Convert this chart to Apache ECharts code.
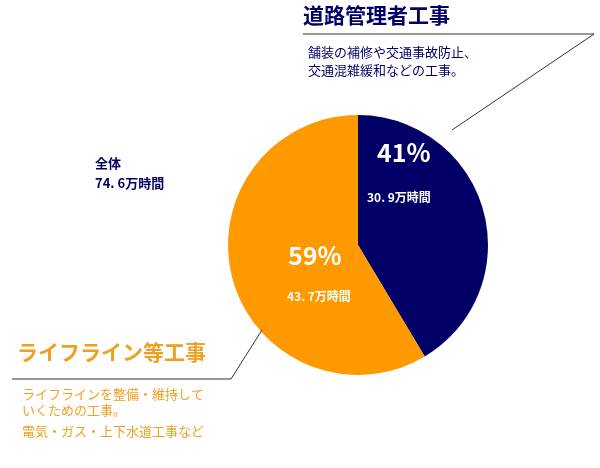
<!DOCTYPE html><html><head><meta charset="utf-8"><script src="https://cdn.jsdelivr.net/npm/echarts@6/dist/echarts.min.js"></script>
<style>html,body{margin:0;background:#fff}#c{width:600px;height:468px}</style></head><body><div id="c"></div><script>
const categories=['道路管理者工事','ライフライン等工事'];
const values=[30.9,43.7];
const colors=['#000066','#FF9900'];
const totalLabel='74. 6万時間';
const valueLabels=['30. 9万時間','43. 7万時間'];
const F='"Noto Sans CJK JP"';
const chart=echarts.init(document.getElementById('c'));
const t=(x,y,s,size,color,weight)=>({type:'text',z:100,left:x,top:y,style:{text:s,font:`${weight||'normal'} ${size}px ${F}`,fill:color}});
const sum=values[0]+values[1];
chart.setOption({animation:false,
series:[{type:'pie',z:1,center:[358,245],radius:[0,130],startAngle:90,clockwise:true,silent:true,
 data:categories.map((n,i)=>({name:n,value:values[i],itemStyle:{color:colors[i]}})),label:{show:false},labelLine:{show:false}}],
graphic:[
 t(303,5,categories[0],21,'#000066','bold'),
 t(308,46,'舗装の補修や交通事故防止、',13,'#000066'),
 t(308,64,'交通混雑緩和などの工事。',13,'#000066'),
 {type:'polyline',z:100,shape:{points:[[303,34],[594,34],[452,130]]},style:{stroke:'#333',lineWidth:1,fill:null}},
 t(17,342,categories[1],21,'#F0A020','bold'),
 {type:'polyline',z:100,shape:{points:[[12,379],[231,379],[262,330]]},style:{stroke:'#333',lineWidth:1,fill:null}},
 t(22,388,'ライフラインを整備・維持して',13,'#F0A020'),
 t(22,404,'いくための工事。',13,'#F0A020'),
 t(22,425,'電気・ガス・上下水道工事など',13,'#F0A020'),
 t(95,157,'全体',13,'#000066','bold'),
 t(95,177,totalLabel,13,'#000066','bold'),
 t(377,140,Math.round(values[0]/sum*100)+'%',25,'#fff','bold'),
 t(367,191,valueLabels[0],12,'#fff','bold'),
 t(288,243,Math.round(values[1]/sum*100)+'%',25,'#fff','bold'),
 t(287,290,valueLabels[1],12,'#fff','bold')
]});
</script></body></html>
